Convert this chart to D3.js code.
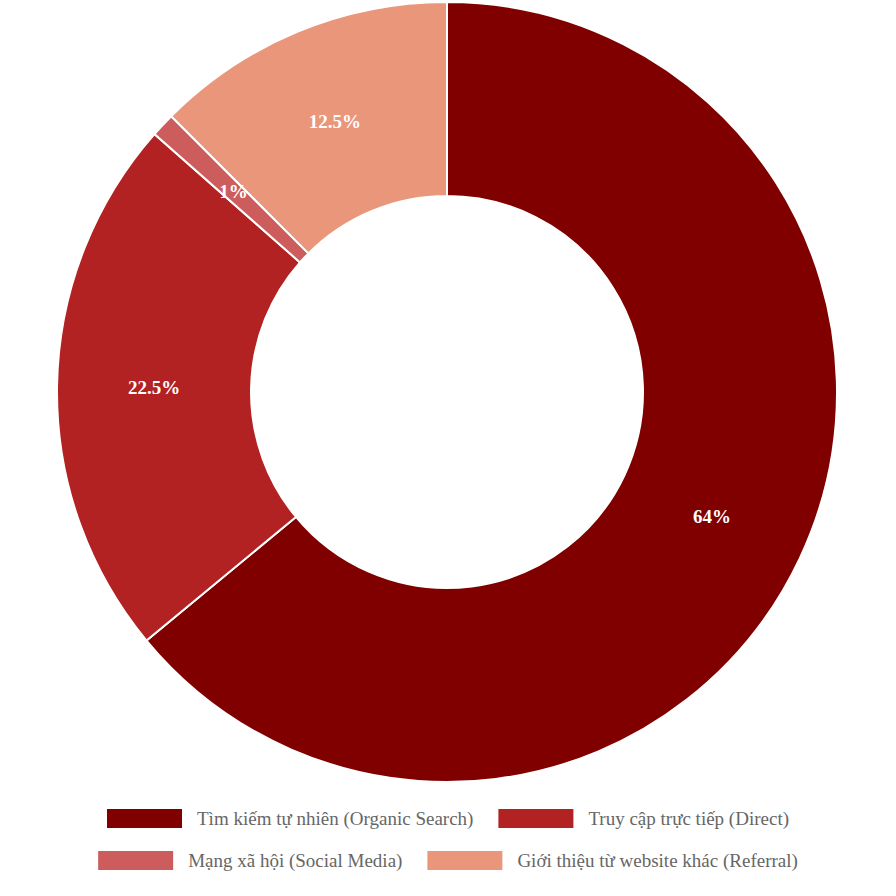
<!DOCTYPE html>
<html>
<head>
<meta charset="utf-8">
<script src="https://cdn.jsdelivr.net/npm/d3@7"></script>
<style>
  body { margin: 0; background: #fff; }
</style>
</head>
<body>
<svg id="chart" width="896" height="896"></svg>
<script>
// data
const categories = ["Tìm kiếm tự nhiên (Organic Search)", "Truy cập trực tiếp (Direct)", "Mạng xã hội (Social Media)", "Giới thiệu từ website khác (Referral)"]
const shares = [64, 22.5, 1, 12.5]
const colors = ["#800000", "#b22222", "#cd5c5c", "#e9967a"]

const svg = d3.select("#chart")
const cx = 447, cy = 392, outerR = 390, innerR = 196

const pie = d3.pie().sort(null).value(d => d)
const arc = d3.arc().innerRadius(innerR).outerRadius(outerR)
const labelArc = d3.arc().innerRadius((innerR + outerR) / 2).outerRadius((innerR + outerR) / 2)

const g = svg.append("g").attr("transform", `translate(${cx},${cy})`)
const slices = pie(shares)

g.selectAll("path")
  .data(slices)
  .enter().append("path")
  .attr("d", arc)
  .attr("fill", (d, i) => colors[i])
  .attr("stroke", "#fff")
  .attr("stroke-width", 2)

g.selectAll("text")
  .data(slices)
  .enter().append("text")
  .attr("transform", d => `translate(${labelArc.centroid(d)})`)
  .attr("text-anchor", "middle")
  .attr("dy", "0.35em")
  .attr("font-family", "Liberation Serif, serif")
  .attr("font-weight", "bold")
  .attr("font-size", 19)
  .attr("fill", "#fff")
  .text(d => d.data + "%")

// legend, two per row, centred
const rows = [[0, 1], [2, 3]]
const rowY = [819, 861]
rows.forEach((row, r) => {
  const lg = svg.append("g")
  let x = 0
  row.forEach(i => {
    const item = lg.append("g").attr("transform", `translate(${x},0)`)
    item.append("rect").attr("y", -10).attr("width", 75).attr("height", 19).attr("fill", colors[i])
    const t = item.append("text")
      .attr("x", 90).attr("dy", "0.33em")
      .attr("font-family", "Liberation Serif, serif")
      .attr("font-size", 19)
      .attr("fill", "#666")
      .text(categories[i])
    x += 90 + t.node().getComputedTextLength() + 25
  })
  const w = x - 25
  lg.attr("transform", `translate(${448 - w / 2},${rowY[r]})`)
})
</script>
</body>
</html>
